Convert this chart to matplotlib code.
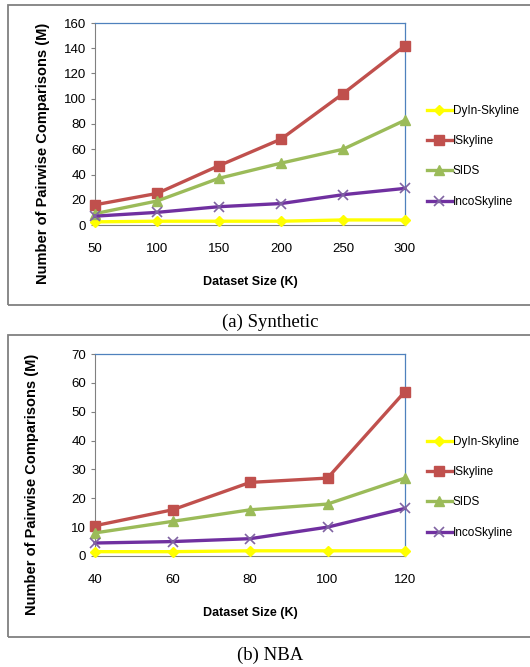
import matplotlib.pyplot as plt
from matplotlib.patches import Rectangle

# Synthetic data
syn_x = [50, 100, 150, 200, 250, 300]
syn_dyln = [2.5, 3, 3, 3, 4, 4]
syn_isky = [16, 25, 47, 68, 104, 142]
syn_sids = [9, 19, 37, 49, 60, 83]
syn_inco = [7, 10, 14.5, 17, 24, 29]

# NBA data
nba_x = [40, 60, 80, 100, 120]
nba_dyln = [1.5, 1.5, 1.8, 1.8, 1.8]
nba_isky = [10.5, 16, 25.5, 27, 57]
nba_sids = [8, 12, 16, 18, 27]
nba_inco = [4.5, 5, 6, 10, 16.5]

labels = ['DyIn-Skyline', 'ISkyline', 'SIDS', 'IncoSkyline']
styles = [
    dict(color='#FFFF00', marker='D', ms=5, mfc='#FFFF00', mec='#FFFF00'),
    dict(color='#C0504D', marker='s', ms=7, mfc='#C0504D', mec='#C0504D'),
    dict(color='#9BBB59', marker='^', ms=7, mfc='#9BBB59', mec='#9BBB59'),
    dict(color='#7030A0', marker='x', ms=7, mfc='#8064A2', mec='#8064A2', mew=1.2),
]

plt.rcParams['font.family'] = ['Liberation Sans', 'DejaVu Sans']

fig = plt.figure(figsize=(5.3, 6.67), dpi=100)
W, H = 530, 667


def panel(top, xs, series, ymax, ystep, caption, cap_y, box, ylab_x):
    ax = fig.add_axes([95 / W, 1 - (top + 202) / H, 310 / W, 202 / H])
    for ys, lab, st in zip(series, labels, styles):
        ax.plot(xs, ys, lw=2.4, label=lab, clip_on=False, zorder=3, **st)
    ax.set_xlim(xs[0], xs[-1])
    ax.set_ylim(0, ymax)
    ax.set_xticks(xs)
    ax.set_yticks(range(0, ymax + 1, ystep))
    ax.tick_params(axis='both', labelsize=9.5, length=3, width=0.8, color='#808080')
    ax.tick_params(axis='x', length=0, pad=13)
    for s in ['left', 'bottom']:
        ax.spines[s].set_color('#808080')
    for s in ['top', 'right']:
        ax.spines[s].set_color('#4F81BD')
        ax.spines[s].set_linewidth(0.9)
    ax.set_xlabel('Dataset Size (K)', fontsize=9, fontweight='bold', labelpad=15)
    ax.set_ylabel('Number of Pairwise Comparisons (M)', fontsize=10.5,
                  fontweight='bold')
    ax.yaxis.set_label_coords(ylab_x, 0.355)
    ax.legend(loc='center left', bbox_to_anchor=(1.055, 0.34), frameon=False,
              fontsize=8.5, handlelength=2.1, labelspacing=1.55, handletextpad=0.1,
              borderaxespad=0)
    fig.patches.append(Rectangle((8 / W, 1 - box[1] / H), 1, (box[1] - box[0]) / H,
                                 transform=fig.transFigure, fill=False,
                                 ec='#808080', lw=1.3))
    fig.text(0.51, 1 - cap_y / H, caption, ha='center', va='center', fontsize=13.5,
             family=['Liberation Serif', 'DejaVu Serif'])
    return ax


panel(23, syn_x, [syn_dyln, syn_isky, syn_sids, syn_inco], 160, 20,
      '(a) Synthetic', 322, (5, 305), -0.145)
panel(354, nba_x, [nba_dyln, nba_isky, nba_sids, nba_inco], 70, 10,
      '(b) NBA', 655, (335, 637), -0.18)

fig.savefig('out.png', dpi=100)
